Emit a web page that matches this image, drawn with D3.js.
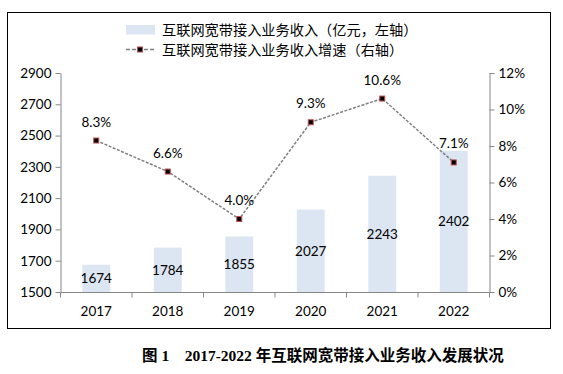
<!DOCTYPE html>
<html><head><meta charset="utf-8">
<script src="https://cdn.jsdelivr.net/npm/d3@7"></script>
<style>body{margin:0;background:#fff;}svg{display:block;}</style>
</head><body>
<script>
const years = ["2017","2018","2019","2020","2021","2022"];
const revenue = [1674,1784,1855,2027,2243,2402];
const growth = [8.3,6.6,4.0,9.3,10.6,7.1];
const leftTicks = [1500,1700,1900,2100,2300,2500,2700,2900];
const rightTicks = [0,2,4,6,8,10,12];
const legendLabels = ["互联网宽带接入业务收入（亿元，左轴）","互联网宽带接入业务收入增速（右轴）"];
const caption = "图 1　2017-2022 年互联网宽带接入业务收入发展状况";

const W=563,H=374;
const svg=d3.select("body").append("svg").attr("width",W).attr("height",H);
const font="Lato, 'Liberation Sans', sans-serif";
const cjk="'Noto Sans CJK SC', sans-serif";
const axisColor="#868686";

svg.append("rect").attr("x",7.5).attr("y",12.5).attr("width",543).attr("height",316)
  .attr("fill","none").attr("stroke","#000").attr("stroke-width",1);

const x0=60.5,x1=489.5,yTop=73,yBot=292;
const x=d3.scaleBand().domain(years).range([x0,x1]).paddingInner(0).paddingOuter(0);
const yL=d3.scaleLinear().domain([1500,2900]).range([yBot,yTop]);
const yR=d3.scaleLinear().domain([0,12]).range([yBot,yTop]);

// bars
const bw=x.bandwidth()*0.39;
svg.append("g").selectAll("rect").data(revenue).join("rect")
  .attr("x",(d,i)=>x(years[i])+x.bandwidth()/2-bw/2)
  .attr("width",bw)
  .attr("y",d=>yL(d)).attr("height",d=>yBot-yL(d))
  .attr("fill","#dce6f2");

// axes
function styleAxis(g){
  g.selectAll("path,line").attr("stroke",axisColor);
  g.selectAll("text").attr("font-family",font).attr("font-size","13.5px").attr("fill","#000");
}
const gl=svg.append("g").attr("transform",`translate(${x0},0)`)
  .call(d3.axisLeft(yL).tickValues(leftTicks).tickSize(5).tickSizeOuter(0).tickPadding(4).tickFormat(d3.format("d")));
styleAxis(gl);
const gr=svg.append("g").attr("transform",`translate(${x1},0)`)
  .call(d3.axisRight(yR).tickValues(rightTicks).tickSize(5).tickSizeOuter(0).tickPadding(4).tickFormat(d=>d+"%"));
styleAxis(gr);
const gx=svg.append("g").attr("transform",`translate(0,${yBot+0.5})`)
  .call(d3.axisBottom(x).tickSize(0).tickPadding(14));
styleAxis(gx);
gx.select(".domain").attr("d",`M${x0},0H${x1}`);
// band boundary ticks
gx.selectAll(".bt").data(years.concat(["end"])).join("line").attr("class","bt")
  .attr("x1",(d,i)=>i<years.length?x(d):x1).attr("x2",(d,i)=>i<years.length?x(d):x1)
  .attr("y1",0).attr("y2",5).attr("stroke",axisColor);

// bar labels
svg.append("g").selectAll("text").data(revenue).join("text")
  .attr("x",(d,i)=>x(years[i])+x.bandwidth()/2)
  .attr("y",d=>(yL(d)+yBot)/2)
  .attr("dy","0.35em").attr("text-anchor","middle")
  .attr("font-family",font).attr("font-size","13.5px").text(d=>d);

// line
const line=d3.line().x((d,i)=>x(years[i])+x.bandwidth()/2).y(d=>yR(d));
svg.append("path").datum(growth).attr("d",line).attr("fill","none")
  .attr("stroke","#7f7f7f").attr("stroke-width",1.5).attr("stroke-dasharray","3,1.5");
svg.append("g").selectAll("rect").data(growth).join("rect")
  .attr("x",(d,i)=>x(years[i])+x.bandwidth()/2-2.5).attr("y",d=>yR(d)-2.5)
  .attr("width",5).attr("height",5).attr("fill","#000").attr("stroke","#c0504d").attr("stroke-width",1);
svg.append("g").selectAll("text").data(growth).join("text")
  .attr("x",(d,i)=>x(years[i])+x.bandwidth()/2)
  .attr("y",d=>yR(d)-14)
  .attr("text-anchor","middle")
  .attr("font-family",font).attr("font-size","13.5px").text(d=>d.toFixed(1)+"%");

// legend
svg.append("rect").attr("x",126).attr("y",25).attr("width",29).attr("height",9.5).attr("fill","#dce6f2");
svg.append("line").attr("x1",126).attr("x2",155).attr("y1",49.5).attr("y2",49.5)
  .attr("stroke","#7f7f7f").attr("stroke-width",1.5).attr("stroke-dasharray","4,2");
svg.append("rect").attr("x",137.5).attr("y",47).attr("width",5).attr("height",5)
  .attr("fill","#000").attr("stroke","#c0504d");
svg.selectAll(".lg").data(legendLabels).join("text").attr("class","lg")
  .attr("x",162).attr("y",(d,i)=>30+i*20).attr("dy","0.35em")
  .attr("font-family",cjk).attr("font-size","14.2px").attr("fill","#000").text(d=>d);

// caption
svg.append("text").attr("x",142).attr("y",356).attr("dy","0.35em")
  .attr("font-family","'Liberation Serif', 'Noto Sans CJK SC', serif").attr("font-weight","bold")
  .attr("font-size","15.5px").text(caption);
</script>
</body></html>
